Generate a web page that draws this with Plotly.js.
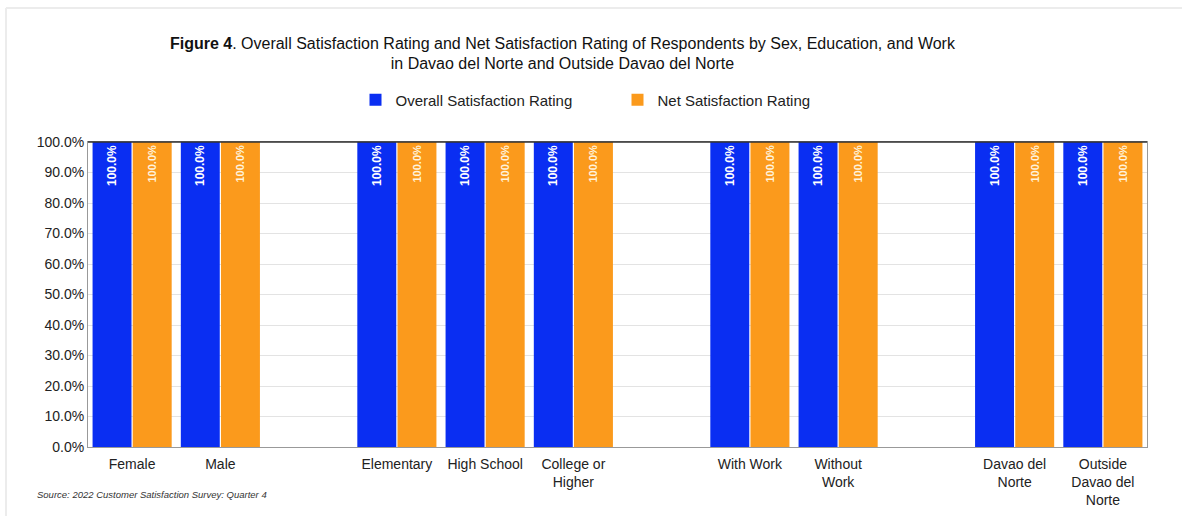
<!DOCTYPE html>
<html>
<head>
<meta charset="utf-8">
<script src="https://cdn.plot.ly/plotly-3.0.1.min.js"></script>
<style>html,body{margin:0;padding:0;background:#fff;}#chart{width:1182px;height:516px;}</style>
</head>
<body>
<div id="chart"></div>
<script>
const categories = ["Female", "Male", " ", "Elementary", "High School", "College or<br>Higher", "  ", "With Work", "Without<br>Work", "   ", "Davao del<br>Norte", "Outside<br>Davao del<br>Norte"];
const overallSatisfaction = [100, 100, null, 100, 100, 100, null, 100, 100, null, 100, 100];
const netSatisfaction = [100, 100, null, 100, 100, 100, null, 100, 100, null, 100, 100];
const seriesNames = ["Overall Satisfaction Rating", "Net Satisfaction Rating"];
const yTicks = [0, 10, 20, 30, 40, 50, 60, 70, 80, 90, 100];

const font = "Liberation Sans, Arial, sans-serif";
function labels(vals) { return vals.map(v => v === null ? "" : v.toFixed(1) + "%"); }

const traces = [
  {
    type: "bar", name: seriesNames[0], x: categories, y: overallSatisfaction,
    marker: {color: "#0a2ef2"},
    text: labels(overallSatisfaction), textposition: "inside", insidetextanchor: "end",
    textangle: -90, textfont: {family: font, size: 12, color: "#ffffff", weight: "bold"},
    hoverinfo: "x+y"
  },
  {
    type: "bar", name: seriesNames[1], x: categories, y: netSatisfaction,
    marker: {color: "#fb9a1c"},
    text: labels(netSatisfaction), textposition: "inside", insidetextanchor: "end",
    textangle: -90, textfont: {family: font, size: 11, color: "#fff3dc", weight: "bold"},
    hoverinfo: "x+y"
  }
];

const layout = {
  width: 1182, height: 516,
  margin: {l: 88, r: 35, t: 142, b: 69},
  paper_bgcolor: "#ffffff", plot_bgcolor: "#ffffff",
  font: {family: font, color: "#222"},
  title: {
    text: "<b>Figure 4</b>. Overall Satisfaction Rating and Net Satisfaction Rating of Respondents by Sex, Education, and Work<br>in Davao del Norte and Outside Davao del Norte",
    x: 0.448, xanchor: "center", xref: "paper",
    y: 0.906, yanchor: "middle",
    font: {family: font, size: 16, color: "#111"}
  },
  barmode: "group", bargap: 0.09, bargroupgap: 0.03,
  showlegend: true,
  legend: {
    orientation: "h", x: 0.500, xanchor: "center", y: 1.138, yanchor: "middle",
    font: {family: font, size: 15, color: "#222"},
    itemwidth: 30, entrywidth: 217, traceorder: "normal"
  },
  xaxis: {
    type: "category", categoryorder: "array", categoryarray: categories,
    tickfont: {family: font, size: 14, color: "#222"},
    showline: true, linecolor: "#999", mirror: true, ticks: "", showgrid: false,
    tickangle: 0, automargin: false, ticklabelstandoff: 4
  },
  yaxis: {
    range: [0, 100], tickvals: yTicks, ticktext: yTicks.map(v => v.toFixed(1) + "%"),
    tickfont: {family: font, size: 14, color: "#222"},
    showgrid: true, gridcolor: "#e3e3e3", gridwidth: 1,
    showline: true, linecolor: "#999", mirror: true, zeroline: false, ticks: "",
    automargin: false
  },
  shapes: [
    {type: "rect", xref: "paper", yref: "paper", x0: 0, x1: 1, y0: 1, y1: 1, line: {color: "#333", width: 1}},
    {type: "line", xref: "paper", yref: "paper", x0: -82/1059, x1: 1 + 35/1059, y0: 1 + 134/305, y1: 1 + 134/305, line: {color: "#ececec", width: 2}},
    {type: "line", xref: "paper", yref: "paper", x0: -82/1059, x1: -82/1059, y0: -69/305, y1: 1 + 134/305, line: {color: "#ececec", width: 2}}
  ],
  annotations: [
    {
      text: "<i>Source: 2022 Customer Satisfaction Survey: Quarter 4</i>",
      xref: "paper", yref: "paper", x: -53/1059, y: -47/305,
      xanchor: "left", yanchor: "middle", showarrow: false,
      font: {family: font, size: 9.5, color: "#333"}
    }
  ]
};

Plotly.newPlot("chart", traces, layout, {displayModeBar: false, responsive: false});
</script>
</body>
</html>
